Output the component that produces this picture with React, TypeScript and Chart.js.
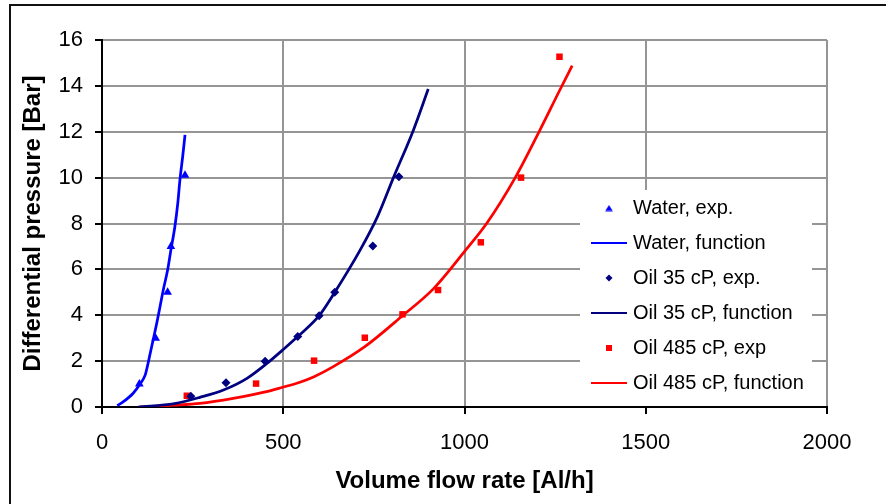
import React, { useEffect, useRef } from 'react';
import { Chart, registerables } from 'chart.js';

Chart.register(...registerables);

// ---------- data ----------
const seriesNames = [
  'Water, exp.',
  'Water, function',
  'Oil 35 cP, exp.',
  'Oil 35 cP, function',
  'Oil 485 cP, exp',
  'Oil 485 cP, function',
];

const waterExpX = [103, 148, 181, 190, 229];
const waterExpY = [1.0, 3.0, 5.0, 7.0, 10.1];

const waterFnX = [42, 59, 86, 105, 119, 125, 132, 142, 151, 160, 169, 181, 190, 201, 209, 215, 222.5, 229];
const waterFnY = [0.06, 0.23, 0.6, 1.0, 1.39, 1.76, 2.27, 2.99, 3.65, 4.37, 5.1, 5.97, 6.84, 7.86, 8.88, 9.9, 10.91, 11.86];

const oil35ExpX = [245, 342, 450, 540, 599, 642, 747, 819];
const oil35ExpY = [0.47, 1.06, 2.0, 3.07, 3.98, 5.0, 7.02, 10.04];

const oil35FnX = [100, 200, 270, 335, 400, 455, 498, 540, 599, 640, 712, 760, 804, 859, 900];
const oil35FnY = [0.0, 0.15, 0.42, 0.74, 1.25, 1.9, 2.48, 3.07, 3.98, 4.95, 6.84, 8.3, 10.0, 12.07, 13.86];

const oil485ExpX = [234, 425, 585, 725, 829, 927, 1045, 1156, 1262];
const oil485ExpY = [0.49, 1.02, 2.02, 3.02, 4.04, 5.1, 7.18, 10.0, 15.27];

const oil485FnX = [103, 200, 270, 362, 454, 498, 546, 585, 638, 725, 829, 914, 1003, 1061, 1140, 1208, 1263, 1297];
const oil485FnY = [0.0, 0.08, 0.16, 0.38, 0.67, 0.86, 1.08, 1.32, 1.76, 2.63, 3.98, 5.15, 6.84, 8.0, 10.0, 12.07, 13.82, 14.88];

const xTickLabels = ['0', '500', '1000', '1500', '2000'];
const yTickLabels = ['0', '2', '4', '6', '8', '10', '12', '14', '16'];

const xTitle = 'Volume flow rate [Al/h]';
const yTitle = 'Differential pressure [Bar]';

// ---------- styles ----------
const FONT = "'Liberation Sans', Arial, Helvetica, sans-serif";
const BLUE = '#0000FF';
const NAVY = '#000080';
const RED = '#FF0000';

const pts = (xs: number[], ys: number[]) => xs.map((x, i) => ({ x, y: ys[i] }));

function makeIcon(kind: string, color: string): HTMLCanvasElement {
  const c = document.createElement('canvas');
  const ctx = c.getContext('2d')!;
  if (kind === 'line') {
    c.width = 36; c.height = 2;
    ctx.fillStyle = color; ctx.fillRect(0, 0, 36, 2);
  } else if (kind === 'triangle') {
    c.width = 8; c.height = 7;
    ctx.fillStyle = color;
    ctx.beginPath(); ctx.moveTo(4, 0.5); ctx.lineTo(7.8, 6.5); ctx.lineTo(0.2, 6.5); ctx.closePath(); ctx.fill();
  } else if (kind === 'diamond') {
    c.width = 8; c.height = 8;
    ctx.fillStyle = color;
    ctx.beginPath(); ctx.moveTo(4, 0.5); ctx.lineTo(7.5, 4); ctx.lineTo(4, 7.5); ctx.lineTo(0.5, 4); ctx.closePath(); ctx.fill();
  } else {
    c.width = 6; c.height = 6;
    ctx.fillStyle = color; ctx.fillRect(0, 0, 6, 6);
  }
  return c;
}

export default function App() {
  const ref = useRef<HTMLCanvasElement | null>(null);

  useEffect(() => {
    if (!ref.current) return;
    const icons = [
      makeIcon('triangle', BLUE),
      makeIcon('line', BLUE),
      makeIcon('diamond', NAVY),
      makeIcon('line', NAVY),
      makeIcon('square', RED),
      makeIcon('line', RED),
    ];

    const framePlugin = {
      id: 'outerFrame',
      beforeDraw(chart: any) {
        const ctx = chart.ctx;
        ctx.save();
        ctx.fillStyle = '#111';
        ctx.fillRect(9, 4, chart.width - 9, 2);
        ctx.fillRect(9, 4, 2, chart.height - 4);
        ctx.restore();
      },
    };

    const legendPlacement = {
      id: 'legendPlacement',
      afterLayout(chart: any) {
        const lg = chart.legend;
        if (!lg) return;
        const ca = chart.chartArea;
        lg.left = ca.right - 247;
        lg.top = ca.top + 143;
        lg.right = ca.right - 15;
        lg.bottom = ca.bottom + 3;
        lg.width = lg.right - lg.left;
        lg.height = lg.bottom - lg.top;
        if (!lg.__bgPatched) {
          const orig = lg.draw.bind(lg);
          lg.draw = (...args: any[]) => {
            const c = chart.ctx;
            const a = chart.chartArea;
            c.save();
            c.fillStyle = '#ffffff';
            c.fillRect(a.right - 247, a.top + 150, 232, a.bottom - a.top - 151);
            c.restore();
            orig(...args);
          };
          lg.__bgPatched = true;
        }
      },
    };

    const chart = new Chart(ref.current, {
      type: 'scatter',
      data: {
        datasets: [
          {
            label: seriesNames[0], data: pts(waterExpX, waterExpY),
            pointStyle: 'triangle', pointRadius: 5, pointHoverRadius: 5,
            backgroundColor: BLUE, borderColor: BLUE, pointBorderWidth: 0, showLine: false,
          },
          {
            label: seriesNames[1], data: pts(waterFnX, waterFnY),
            showLine: true, pointRadius: 0, pointHoverRadius: 0, pointStyle: 'line',
            borderColor: BLUE, backgroundColor: BLUE, borderWidth: 2.75, cubicInterpolationMode: 'monotone', fill: false,
          },
          {
            label: seriesNames[2], data: pts(oil35ExpX, oil35ExpY),
            pointStyle: 'rectRot', pointRadius: 4.5, pointHoverRadius: 4.5,
            backgroundColor: NAVY, borderColor: NAVY, pointBorderWidth: 0, showLine: false,
          },
          {
            label: seriesNames[3], data: pts(oil35FnX, oil35FnY),
            showLine: true, pointRadius: 0, pointHoverRadius: 0, pointStyle: 'line',
            borderColor: NAVY, backgroundColor: NAVY, borderWidth: 2.75, cubicInterpolationMode: 'monotone', fill: false,
          },
          {
            label: seriesNames[4], data: pts(oil485ExpX, oil485ExpY),
            pointStyle: 'rect', pointRadius: 4.6, pointHoverRadius: 4.6,
            backgroundColor: RED, borderColor: RED, pointBorderWidth: 0, showLine: false,
          },
          {
            label: seriesNames[5], data: pts(oil485FnX, oil485FnY),
            showLine: true, pointRadius: 0, pointHoverRadius: 0, pointStyle: 'line',
            borderColor: RED, backgroundColor: RED, borderWidth: 2.75, cubicInterpolationMode: 'monotone', fill: false,
          },
        ],
      },
      options: {
        animation: false,
        responsive: false,
        maintainAspectRatio: false,
        events: [],
        layout: { padding: { top: 40, right: 59, left: 0, bottom: 0 } },
        scales: {
          x: {
            type: 'linear',
            min: 0,
            max: 2000,
            ticks: {
              stepSize: 500,
              padding: 16,
              color: '#000',
              maxRotation: 0,
              autoSkip: false,
              font: { family: FONT, size: 22 },
              callback: (_v: any, i: number) => xTickLabels[i],
            },
            grid: { color: '#959595', lineWidth: 2, tickLength: 7, tickColor: '#000', tickWidth: 2 },
            border: { color: '#000', width: 2 },
            title: {
              display: true, text: xTitle, color: '#000',
              font: { family: FONT, size: 24, weight: 'bold' },
              padding: { top: 0, bottom: 8 },
            },
            afterFit: (s: any) => { s.height = 97; },
          },
          y: {
            type: 'linear',
            min: 0,
            max: 16,
            ticks: {
              stepSize: 2,
              padding: 12,
              color: '#000',
              autoSkip: false,
              font: { family: FONT, size: 22 },
              callback: (_v: any, i: number) => yTickLabels[i],
            },
            grid: { color: '#959595', lineWidth: 2, tickLength: 7, tickColor: '#000', tickWidth: 2 },
            border: { color: '#000', width: 2 },
            title: {
              display: true, text: yTitle, color: '#000',
              font: { family: FONT, size: 24, weight: 'bold' },
              padding: { top: 19, bottom: 0 },
            },
            afterFit: (s: any) => { s.width = 102; },
          },
        },
        plugins: {
          legend: {
            display: true,
            position: 'chartArea',
            align: 'start',
            labels: {
              usePointStyle: true,
              pointStyleWidth: 28,
              boxHeight: 20,
              padding: 15,
              color: '#000',
              font: { family: FONT, size: 20 },
              generateLabels: (ch: any) => {
                const items = (Chart.defaults as any).plugins.legend.labels.generateLabels(ch);
                items.forEach((it: any) => { it.pointStyle = icons[it.datasetIndex]; });
                return items;
              },
            },
          },
          tooltip: { enabled: false },
        },
      } as any,
      plugins: [framePlugin, legendPlacement],
    });

    return () => chart.destroy();
  }, []);

  return (
    <div style={{ position: 'absolute', left: 0, top: 0, width: 886, height: 504, background: '#fff' }}>
      <canvas ref={ref} width={886} height={504} style={{ display: 'block' }} />
    </div>
  );
}
